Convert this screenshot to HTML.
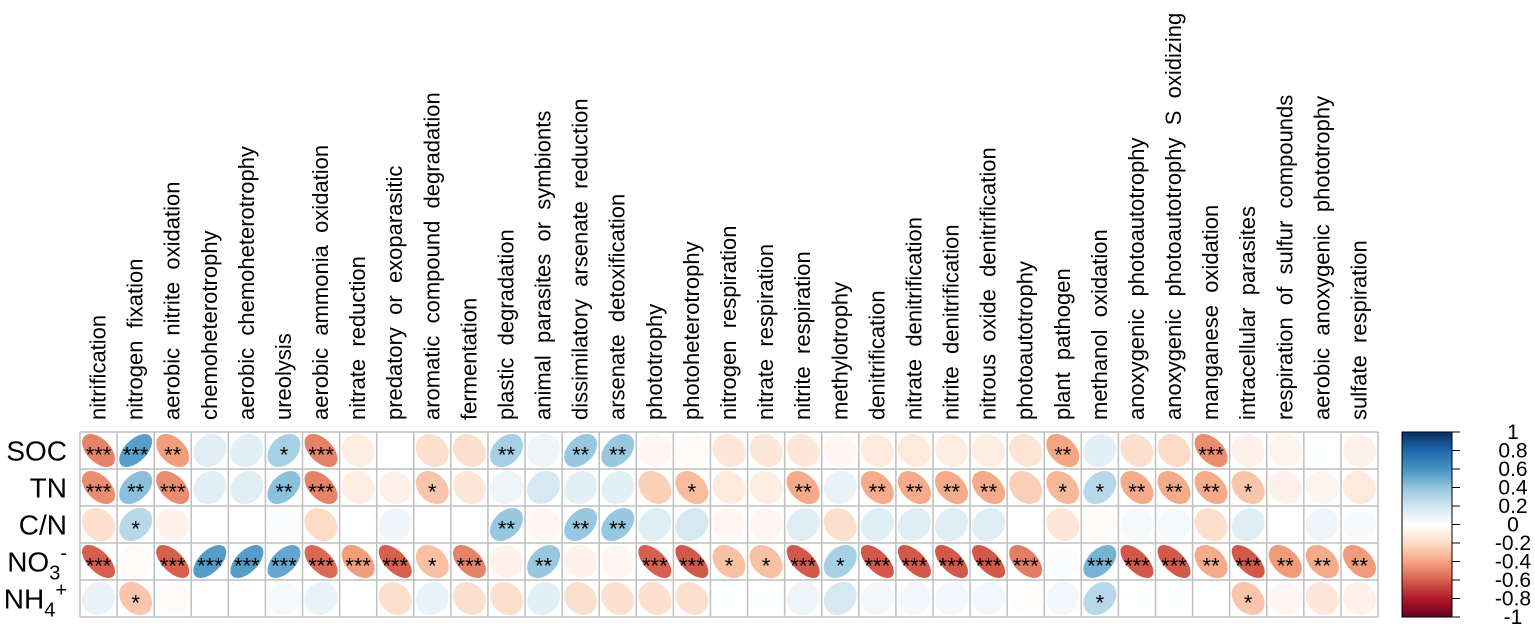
<!DOCTYPE html>
<html><head><meta charset="utf-8"><style>
html,body{margin:0;padding:0;background:#fff;}
svg{display:block;font-family:"Liberation Sans",Arial,sans-serif;}
</style></head><body>
<svg id="chart" width="1535" height="629" viewBox="0 0 1535 629" xmlns="http://www.w3.org/2000/svg"></svg>
<script>
const columns = ["nitrification","nitrogen  fixation","aerobic  nitrite  oxidation","chemoheterotrophy","aerobic  chemoheterotrophy","ureolysis","aerobic  ammonia  oxidation","nitrate  reduction","predatory  or  exoparasitic","aromatic  compound  degradation","fermentation","plastic  degradation","animal  parasites  or  symbionts","dissimilatory  arsenate  reduction","arsenate  detoxification","phototrophy","photoheterotrophy","nitrogen  respiration","nitrate  respiration","nitrite  respiration","methylotrophy","denitrification","nitrate  denitrification","nitrite  denitrification","nitrous  oxide  denitrification","photoautotrophy","plant  pathogen","methanol  oxidation","anoxygenic  photoautotrophy","anoxygenic  photoautotrophy  S  oxidizing","manganese  oxidation","intracellular  parasites","respiration  of  sulfur  compounds","aerobic  anoxygenic  phototrophy","sulfate  respiration"];
const rows = ["SOC","TN","C/N","NO3","NH4"];
const socValues = [-0.5,0.55,-0.42,0.13,0.13,0.33,-0.5,-0.1,0,-0.18,-0.18,0.33,0.08,0.38,0.38,-0.05,-0.03,-0.14,-0.14,-0.14,-0.05,-0.12,-0.12,-0.1,-0.1,-0.15,-0.4,0.12,-0.18,-0.2,-0.47,-0.08,-0.06,0.01,-0.08];
const tnValues = [-0.47,0.42,-0.47,0.13,0.13,0.42,-0.5,-0.1,-0.08,-0.28,-0.14,0.08,0.18,0.12,0.12,-0.24,-0.32,-0.12,-0.1,-0.38,0.1,-0.38,-0.38,-0.38,-0.38,-0.24,-0.33,0.28,-0.38,-0.38,-0.38,-0.28,-0.08,-0.06,-0.12];
const cnValues = [-0.17,0.28,-0.07,0,0,0.02,-0.2,0,0.07,0,0,0.38,-0.05,0.38,0.38,0.14,0.18,-0.05,-0.05,0.14,-0.18,0.14,0.14,0.14,0.14,0,-0.14,-0.03,0.05,0.05,-0.18,0.14,0,0.08,0.03];
const no3Values = [-0.6,-0.03,-0.6,0.56,0.56,0.52,-0.57,-0.42,-0.6,-0.3,-0.5,-0.07,0.38,-0.07,-0.05,-0.6,-0.62,-0.3,-0.3,-0.62,0.33,-0.62,-0.62,-0.62,-0.62,-0.52,0.02,0.47,-0.62,-0.62,-0.38,-0.62,-0.43,-0.38,-0.43];
const nh4Values = [0.1,-0.28,-0.03,0,0,0.05,0.1,0,-0.18,0.1,-0.18,-0.18,0.12,-0.18,-0.17,-0.17,-0.18,0.01,0.01,0.08,0.18,0.06,0.06,0.06,0.06,-0.01,0.06,0.28,0.01,0.01,0,-0.28,-0.05,-0.14,-0.08];
const socStars = ["***","***","**","","","*","***","","","","","**","","**","**","","","","","","","","","","","","**","","","","***","","","",""];
const tnStars = ["***","**","***","","","**","***","","","*","","","","","","","*","","","**","","**","**","**","**","","*","*","**","**","**","*","","",""];
const cnStars = ["","*","","","","","","","","","","**","","**","**","","","","","","","","","","","","","","","","","","","",""];
const no3Stars = ["***","","***","***","***","***","***","***","***","*","***","","**","","","***","***","*","*","***","*","***","***","***","***","***","","***","***","***","**","***","**","**","**"];
const nh4Stars = ["","*","","","","","","","","","","","","","","","","","","","","","","","","","","*","","","","*","","",""];
const legendTicks = [1,0.8,0.6,0.4,0.2,0,-0.2,-0.4,-0.6,-0.8,-1];
const legendLabels = ["1","0.8","0.6","0.4","0.2","0","-0.2","-0.4","-0.6","-0.8","-1"];

const allValues=[socValues,tnValues,cnValues,no3Values,nh4Values];
const allStars=[socStars,tnStars,cnStars,no3Stars,nh4Stars];
const NS="http://www.w3.org/2000/svg";
const svg=document.getElementById('chart');
const gx0=80,gx1=1378,gy0=432,gy1=617;
const cw=(gx1-gx0)/columns.length, ch=(gy1-gy0)/rows.length;
const xCenter=i=>gx0+(i+0.5)*cw;
const yCenter=j=>gy0+(j+0.5)*ch;
const stops=["#67001F","#B2182B","#D6604D","#F4A582","#FDDBC7","#FFFFFF","#D1E5F0","#92C5DE","#4393C3","#2166AC","#053061"];
function hex(h){return [1,3,5].map(k=>parseInt(h.substr(k,2),16));}
function color(v){
  v=Math.max(-1,Math.min(1,v));
  const t=(v+1)/0.2;let i=Math.floor(t);if(i>=10)i=9;const f=t-i;
  const a=hex(stops[i]),b=hex(stops[i+1]);
  return 'rgb('+a.map((c,k)=>Math.round(c+(b[k]-c)*f)).join(',')+')';
}
function mk(tag,attrs,parent){const e=document.createElementNS(NS,tag);for(const k in attrs)e.setAttribute(k,attrs[k]);(parent||svg).appendChild(e);return e;}

columns.forEach((c,i)=>{
  const x=xCenter(i)+7,y=420;
  const t=mk('text',{x:x,y:y,transform:'rotate(-90 '+x+' '+y+')','font-size':'22','fill':'#000'});
  
  
  t.style.whiteSpace='pre';
  t.textContent=c;
});
const rowG=mk('g',{});


rows.forEach((r,j)=>{
  const t=mk('text',{x:67,y:yCenter(j)+10,'text-anchor':'end','font-size':'28','fill':'#000'},rowG);
  
  
  if(r==='NO3'){t.innerHTML='NO<tspan font-size="20" dy="8">3</tspan><tspan font-size="20" dy="-20">-</tspan>';}
  else if(r==='NH4'){t.innerHTML='NH<tspan font-size="20" dy="8">4</tspan><tspan font-size="20" dy="-20">+</tspan>';}
  else t.textContent=r;
});
const cellG=mk('g',{});


const R=16.5;
allValues.forEach((vals,j)=>{
  vals.forEach((v,i)=>{
    const cx=xCenter(i),cy=yCenter(j);
    const a=R*Math.sqrt(1+Math.abs(v)),b=R*Math.sqrt(1-Math.abs(v));
    const e=mk('ellipse',{cx:cx,cy:cy,rx:a,ry:b,fill:color(v),transform:'rotate('+(v<0?45:-45)+' '+cx+' '+cy+')'},cellG);
    
    
    const s=allStars[j][i];
    if(s){
      const t=mk('text',{x:cx,y:cy+12,'text-anchor':'middle','font-size':'22','fill':'#000'},cellG);
      
      
      t.textContent=s;
    }
  });
});
const gridG=mk('g',{stroke:'#bfbfbf','stroke-width':'1.5',fill:'none'});


for(let i=0;i<=columns.length;i++){const x=gx0+i*cw;mk('line',{x1:x,y1:gy0,x2:x,y2:gy1},gridG);}
for(let j=0;j<=rows.length;j++){const y=gy0+j*ch;mk('line',{x1:gx0,y1:y,x2:gx1,y2:y},gridG);}
const defs=mk('defs',{});
const lg=mk('linearGradient',{id:'cb',x1:'0',y1:'1',x2:'0',y2:'0'},defs);
for(let k=0;k<=20;k++){const v=-1+k*0.1;mk('stop',{offset:(k/20),'stop-color':color(v)},lg);}
const lx0=1402,lx1=1452,ly0=432,ly1=617;
const legG=mk('g',{});


const bar=mk('rect',{x:lx0,y:ly0,width:lx1-lx0,height:ly1-ly0,fill:'url(#cb)',stroke:'#000','stroke-width':'1'},legG);


const yLeg=v=>ly0+(1-v)/2*(ly1-ly0);
legendTicks.forEach((v,k)=>{
  const y=yLeg(v);
  mk('line',{x1:lx1,y1:y,x2:lx1+8,y2:y,stroke:'#000','stroke-width':'1'},legG);
  const t=mk('text',{x:1513,y:y+7,'text-anchor':'middle','font-size':'21','fill':'#000'},legG);
  
  
  t.textContent=legendLabels[k];
});
</script>
</body></html>
